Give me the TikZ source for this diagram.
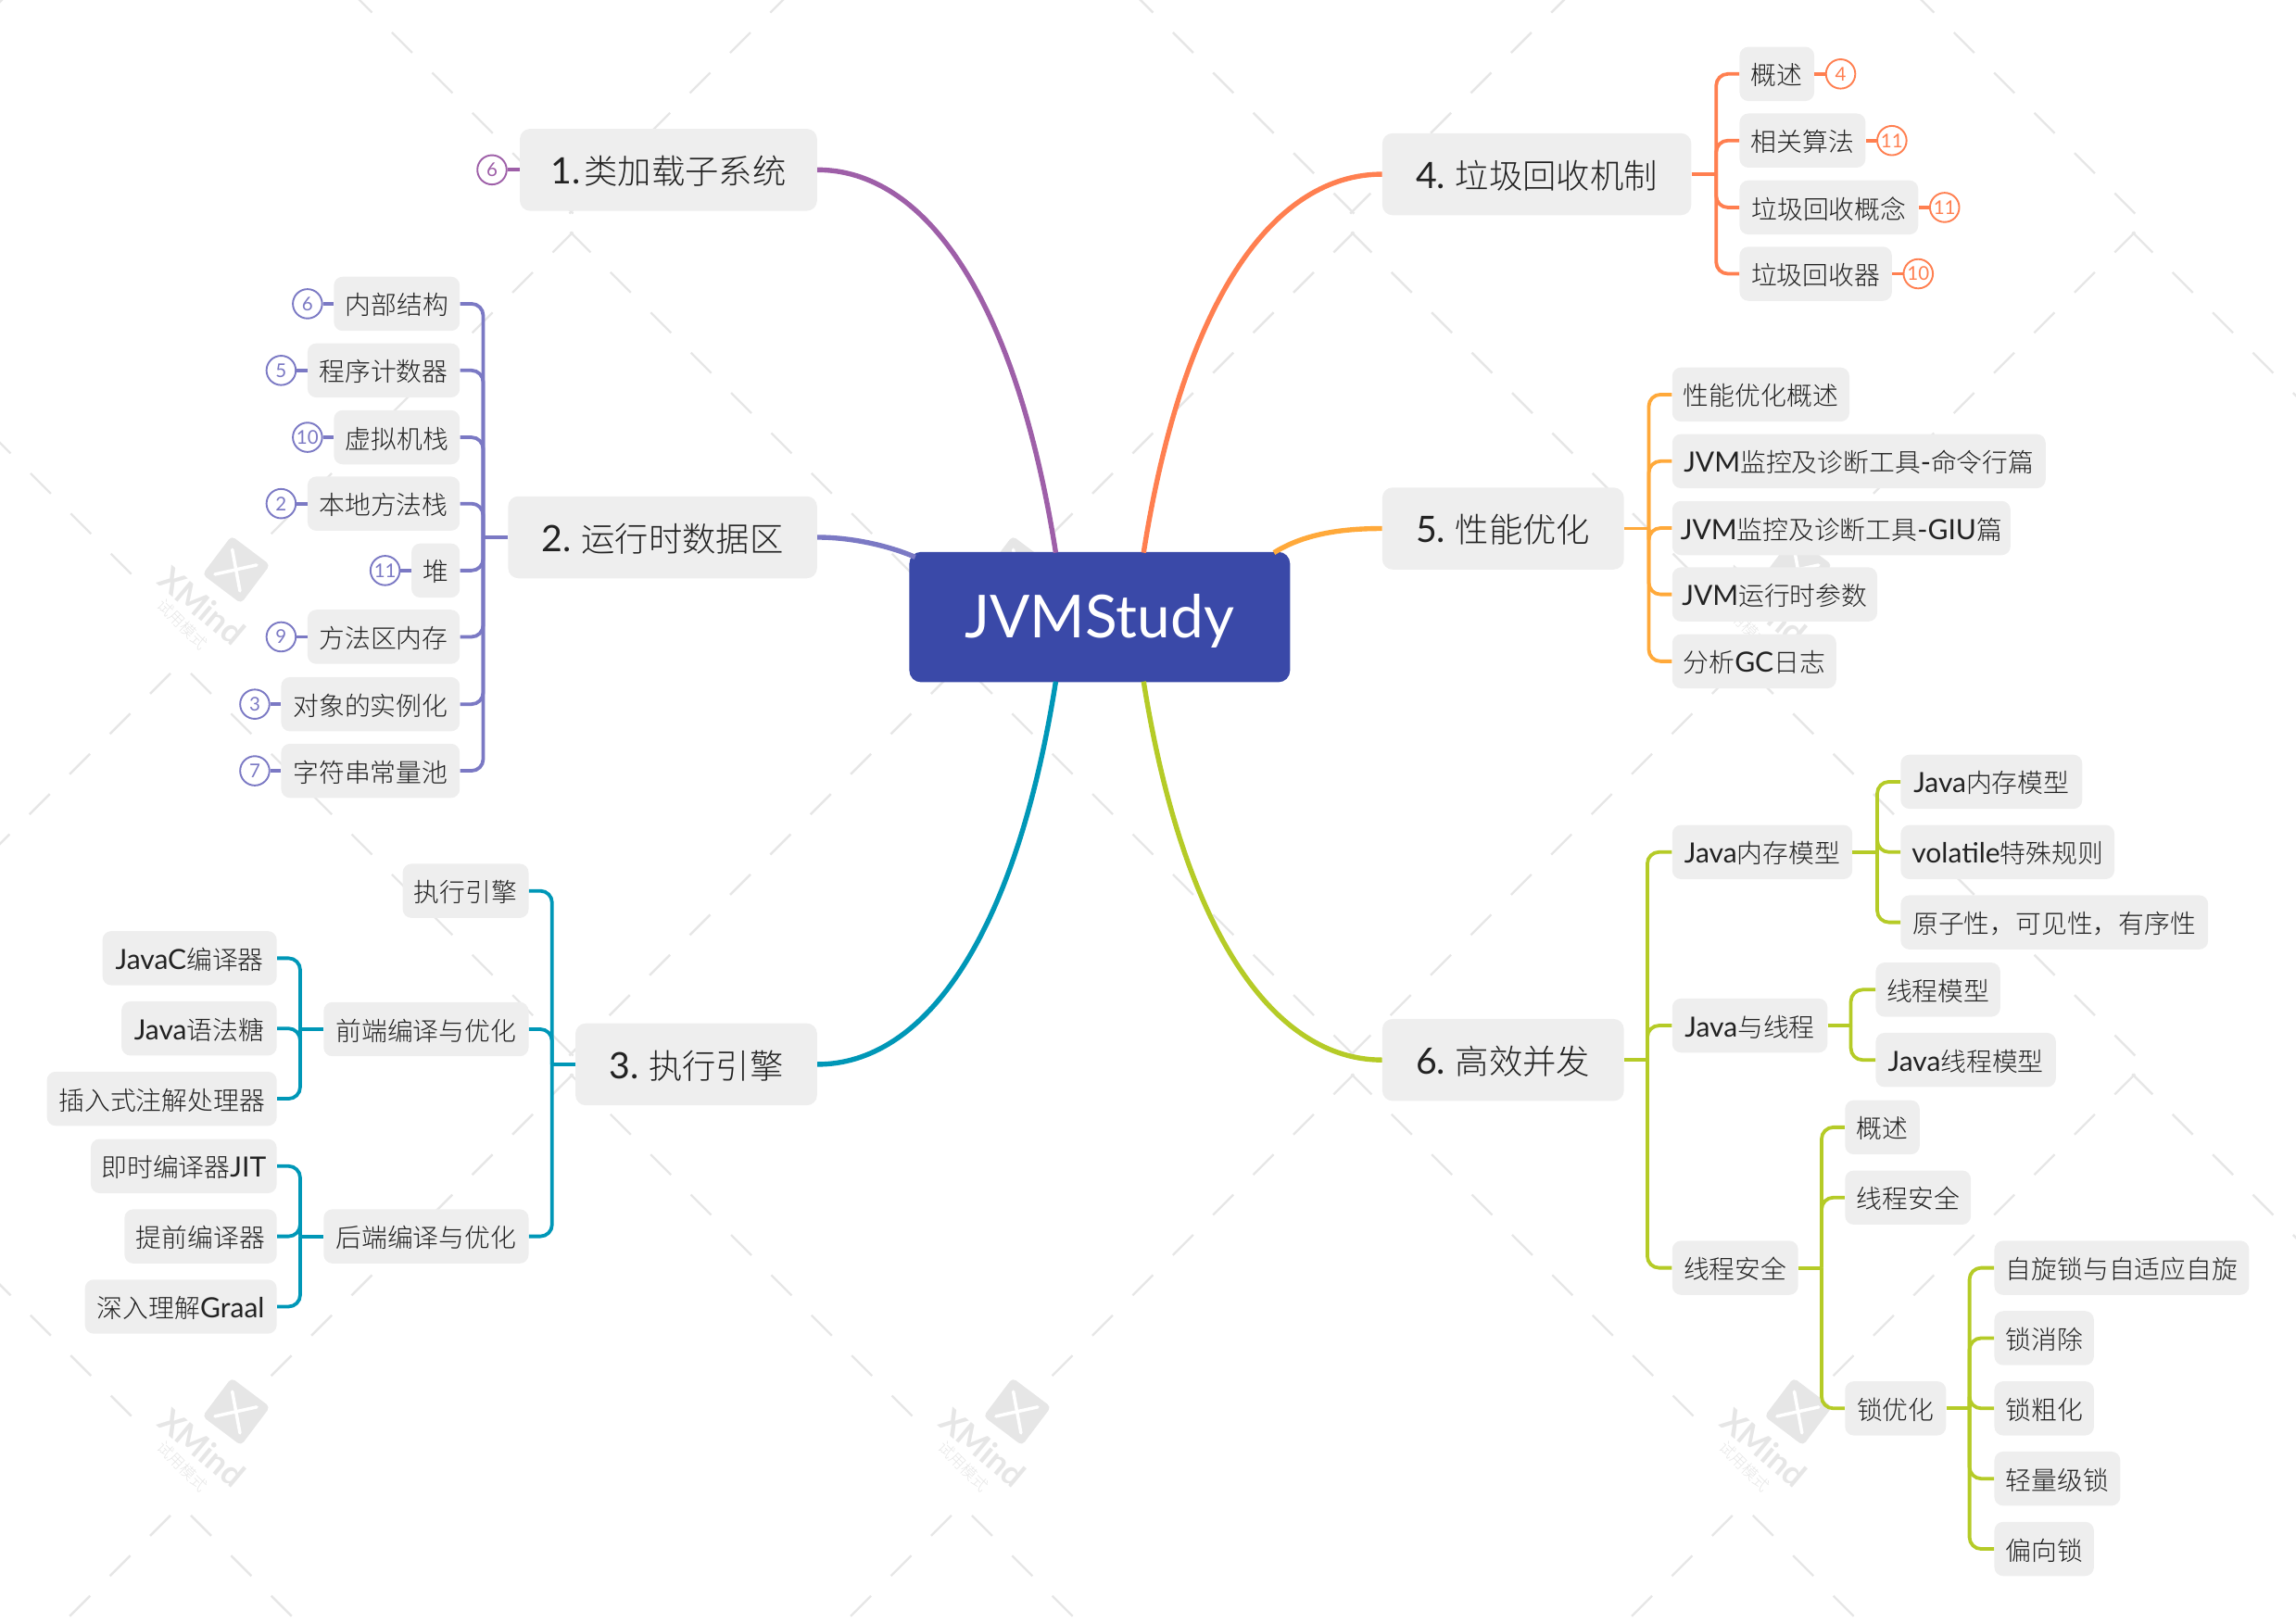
\documentclass[tikz,border=0pt]{standalone}
\usepackage{fontspec}
\setmainfont{Noto Sans CJK SC}[UprightFont=* Light]
\newfontfamily\latinf{Lato}[Scale=1.08]
\newcommand{\la}[1]{{\latinf #1}}
\definecolor{cPur}{HTML}{9E5FA8}
\definecolor{cLav}{HTML}{7B79C4}
\definecolor{cBlu}{HTML}{0097B7}
\definecolor{cOra}{HTML}{FF7F50}
\definecolor{cAmb}{HTML}{FFA93A}
\definecolor{cGre}{HTML}{B5CB27}
\definecolor{cCen}{HTML}{3A49A8}
\definecolor{cBox}{HTML}{EEEEEE}
\definecolor{cTxt}{HTML}{222222}
\definecolor{cWm}{HTML}{E6E6E6}
\tikzset{
  boxbase/.style={rectangle,rounded corners=6pt,fill=cBox,text=cTxt,inner sep=0pt},
  mainbox/.style={boxbase,rounded corners=7pt,minimum height=56pt,font=\fontsize{23}{26}\selectfont},
  subbox/.style={boxbase,minimum height=37pt,font=\fontsize{17.6}{20}\selectfont},
  mcurve/.style={line width=3.4pt},
  busline/.style={line width=2.4pt},
  bendline/.style={busline,rounded corners=8pt},
  badge/.style={circle,draw=#1,text=#1,fill=white,line width=1.2pt,minimum size=20pt,inner sep=0pt,font=\latinf\fontsize{12}{14}\selectfont},
  wmdash/.style={draw=cWm,line width=1.5pt},
}
\newcommand{\tb}[6][subbox]{\node[#1,minimum width={#4pt-#3pt}] (#2) at ({(#3+#4)/2},#5) {\raisebox{-0.9pt}[\height][\depth]{#6}};}
\newcommand{\bus}[4]{%
  \coordinate (sx) at (#2,0);
  \draw[busline,#3] (#1) -- (sx |- #1);
  \foreach \c in {#4}{\draw[bendline,#3] (sx |- #1) |- (\c);}
}
\newcommand{\bdg}[5]{%
  \node[badge=#3] (#1) at #2 {#4};
  \draw[busline,#3] (#1) -- (#5);
}
\begin{document}
\begin{tikzpicture}[x=1pt,y=-1pt]
\useasboundingbox (0,0) rectangle (1568,1108.6);
% watermark
\begin{scope}[x=0.6327pt,y=-0.6327pt]
\foreach \i in {-1,0,1,2}{\foreach \j in {-193,716,1625}{
  \pgfmathsetmacro\vx{195+843*\i}
  \foreach \k in {0,...,9}{
    \pgfmathsetmacro\o{22+43.4*\k}
    \draw[wmdash] ({\vx-\o+11},{\j+\o-11}) -- ({\vx-\o-11},{\j+\o+11});
    \draw[wmdash] ({\vx+\o-11},{\j+\o-11}) -- ({\vx+\o+11},{\j+\o+11});
  }
}}
\foreach \i in {-2,-1,0,1,2}{\foreach \j in {252,1161}{
  \pgfmathsetmacro\vx{617+843*\i}
  \foreach \k in {0,...,7}{
    \pgfmathsetmacro\o{9.5+43.4*\k}
    \draw[wmdash] ({\vx-\o+11},{\j+\o-11}) -- ({\vx-\o-11},{\j+\o+11});
  }
  \foreach \k in {0,...,8}{
    \pgfmathsetmacro\o{9.5+43.4*\k}
    \draw[wmdash] ({\vx+\o-11},{\j+\o-11}) -- ({\vx+\o+11},{\j+\o+11});
  }
}}
\foreach \i in {0,1,2}{\foreach \j in {0,1}{
  \pgfmathsetmacro\lx{255+843*\i}
  \pgfmathsetmacro\ly{615+909*\j}
  \begin{scope}[shift={(\lx,\ly)}]
    \node[rectangle,rounded corners=3pt,fill=cWm,minimum size=33pt,inner sep=0pt,rotate=-37] (wl\i\j) at (0,0) {};
    \draw[white,line width=2.2pt,line cap=round] (-4.3,-21.7) -- (4,23);
    \draw[white,line width=2.2pt,line cap=round] (-23,5) -- (22,-5);
    \node[text=cWm,rotate=-40,font=\latinf\bfseries\fontsize{21}{24}\selectfont] (wx\i\j) at (-37,39) {XMind};
    \node[text=cWm,rotate=-45,font=\fontsize{10.7}{12}\selectfont] (wt\i\j) at (-58,59) {试用模式};
  \end{scope}
}}
\end{scope}
% centre
\node[rectangle,rounded corners=8pt,fill=cCen,text=white,minimum width=260pt,minimum height=89pt,inner sep=0pt,font=\latinf\fontsize{37.5}{42}\selectfont] (center) at (751,421.5) {\raisebox{-2.5pt}[\height][\depth]{JVMStudy}};
% main topics
\tb[mainbox]{m1}{355}{558}{116}{\la{1.}\hspace{2.5pt}类加载子系统}
\tb[mainbox]{m2}{347}{558}{367}{\la{2.} 运行时数据区}
\tb[mainbox]{m3}{393}{558}{727}{\la{3.} 执行引擎}
\tb[mainbox]{m4}{944}{1155}{119}{\la{4.} 垃圾回收机制}
\tb[mainbox]{m5}{944}{1109}{361}{\la{5.} 性能优化}
\tb[mainbox]{m6}{944}{1109}{724}{\la{6.} 高效并发}
% main curves
\coordinate (c1) at (721,377.5);
\coordinate (c2) at (625,380.5);
\coordinate (c3) at (721,465.5);
\coordinate (c4) at (781,377.5);
\coordinate (c5) at (870,377.5);
\coordinate (c6) at (781,465.5);
\draw[mcurve,cPur] (c1) .. controls (693,200) and (630,116) .. (m1.east);
\draw[mcurve,cLav] (c2) .. controls (605,372) and (580,367) .. (m2.east);
\draw[mcurve,cBlu] (c3) .. controls (693,643) and (630,727) .. (m3.east);
\draw[mcurve,cOra] (c4) .. controls (809,200) and (872,119) .. (m4.west);
\draw[mcurve,cAmb] (c5) .. controls (890,365) and (915,361) .. (m5.west);
\draw[mcurve,cGre] (c6) .. controls (809,641) and (872,724) .. (m6.west);
% group 1
\bdg{b1}{(336,116)}{cPur}{6}{m1.west}
% group 2
\tb{a1}{228}{314}{207.5}{内部结构}
\tb{a2}{210}{314}{253}{程序计数器}
\tb{a3}{228}{314}{298.7}{虚拟机栈}
\tb{a4}{210}{314}{344}{本地方法栈}
\tb{a5}{281}{314}{389.7}{堆}
\tb{a6}{210}{314}{435}{方法区内存}
\tb{a7}{192}{314}{481}{对象的实例化}
\tb{a8}{192}{314}{526.5}{字符串常量池}
\bus{m2.west}{330}{cLav}{a1.east,a2.east,a3.east,a4.east,a5.east,a6.east,a7.east,a8.east}
\bdg{ba1}{(210,207.5)}{cLav}{6}{a1.west}
\bdg{ba2}{(192,253)}{cLav}{5}{a2.west}
\bdg{ba3}{(210,298.7)}{cLav}{10}{a3.west}
\bdg{ba4}{(192,344)}{cLav}{2}{a4.west}
\bdg{ba5}{(263,389.7)}{cLav}{11}{a5.west}
\bdg{ba6}{(192,435)}{cLav}{9}{a6.west}
\bdg{ba7}{(174,481)}{cLav}{3}{a7.west}
\bdg{ba8}{(174,526.5)}{cLav}{7}{a8.west}
% group 3
\tb{e1}{275}{361}{608.5}{执行引擎}
\tb{e2}{221}{361}{703}{前端编译与优化}
\tb{e3}{221}{361}{844.5}{后端编译与优化}
\tb{f1}{70}{189}{654.5}{\la{JavaC}编译器}
\tb{f2}{83}{189}{702.5}{\la{Java}语法糖}
\tb{f3}{32}{189}{750.5}{插入式注解处理器}
\tb{g1}{62}{189}{796.5}{即时编译器\la{JIT}}
\tb{g2}{85}{189}{844.5}{提前编译器}
\tb{g3}{58}{189}{892.5}{深入理解\la{Graal}}
\bus{m3.west}{377}{cBlu}{e1.east,e2.east,e3.east}
\bus{e2.west}{205}{cBlu}{f1.east,f2.east,f3.east}
\bus{e3.west}{205}{cBlu}{g1.east,g2.east,g3.east}
% group 4
\tb{h1}{1188}{1239}{50.5}{概述}
\tb{h2}{1188}{1274}{96}{相关算法}
\tb{h3}{1188}{1310}{141.7}{垃圾回收概念}
\tb{h4}{1188}{1292}{187}{垃圾回收器}
\bus{m4.east}{1172}{cOra}{h1.west,h2.west,h3.west,h4.west}
\bdg{bh1}{(1257,50.5)}{cOra}{4}{h1.east}
\bdg{bh2}{(1292,96)}{cOra}{11}{h2.east}
\bdg{bh3}{(1328,141.7)}{cOra}{11}{h3.east}
\bdg{bh4}{(1310,187)}{cOra}{10}{h4.east}
% group 5
\tb{i1}{1142}{1263}{269.5}{性能优化概述}
\tb{i2}{1142}{1397}{315}{\la{JVM}监控及诊断工具\la{-}命令行篇}
\tb{i3}{1142}{1373}{360.7}{\la{JVM}监控及诊断工具\la{-GIU}篇}
\tb{i4}{1142}{1282}{406}{\la{JVM}运行时参数}
\tb{i5}{1142}{1254}{451.7}{分析\la{GC}日志}
\bus{m5.east}{1126}{cAmb}{i1.west,i2.west,i3.west,i4.west,i5.west}
% group 6
\tb{j1}{1142}{1265}{582}{\la{Java}内存模型}
\tb{j2}{1142}{1248}{700.5}{\la{Java}与线程}
\tb{j3}{1142}{1228}{866}{线程安全}
\tb{k1}{1298}{1422}{534}{\la{Java}内存模型}
\tb{k2}{1298}{1444}{582}{\la{volatile}特殊规则}
\tb{k3}{1298}{1508}{630}{原子性，可见性，有序性}
\tb{l1}{1281}{1366}{676}{线程模型}
\tb{l2}{1281}{1404}{724}{\la{Java}线程模型}
\tb{n1}{1260}{1311}{770}{概述}
\tb{n2}{1260}{1346}{818}{线程安全}
\tb{n3}{1260}{1329}{962}{锁优化}
\tb{o1}{1362}{1536}{866}{自旋锁与自适应自旋}
\tb{o2}{1362}{1430}{914}{锁消除}
\tb{o3}{1362}{1430}{962}{锁粗化}
\tb{o4}{1362}{1448}{1010}{轻量级锁}
\tb{o5}{1362}{1430}{1058}{偏向锁}
\bus{m6.east}{1125}{cGre}{j1.west,j2.west,j3.west}
\bus{j1.east}{1282}{cGre}{k1.west,k2.west,k3.west}
\bus{j2.east}{1264}{cGre}{l1.west,l2.west}
\bus{j3.east}{1244}{cGre}{n1.west,n2.west,n3.west}
\bus{n3.east}{1345}{cGre}{o1.west,o2.west,o3.west,o4.west,o5.west}
\end{tikzpicture}
\end{document}
